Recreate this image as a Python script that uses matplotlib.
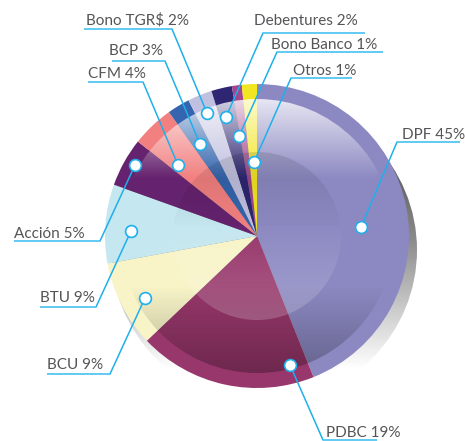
import matplotlib
matplotlib.use('Agg')
import matplotlib.pyplot as plt
from matplotlib.patches import Circle
import numpy as np

W, H = 465, 441

# clockwise from 12 o'clock
names = ['DPF', 'PDBC', 'BCU', 'BTU', 'Acción', 'CFM', 'BCP', 'Bono TGR$', 'Debentures', 'Bono Banco', 'Otros']
shares = [44.0, 19.0, 9.2, 8.4, 5.2, 4.5, 2.4, 2.6, 2.2, 1.05, 1.6]
labels = [45, 19, 9, 9, 5, 4, 3, 2, 2, 1, 1]
colors = ['#8C89C2', '#97376B', '#F8F4C8', '#C5E7EF', '#65226E', '#F28080',
          '#3465AE', '#C0C0E0', '#2E2672', '#A0478F', '#F2E622']

# layout in image pixels (y down)
cx, cy, rad = 257, 236, 152
dots = [(361, 227), (290, 365), (145, 298), (131, 231), (135, 165), (178, 165),
        (200, 144), (207, 113), (226, 117), (239, 136), (254, 162)]
elbows = [(397, 142), (323, 440), (110, 374), (96, 307), (100, 241), (143, 82),
          (165, 61), (172, 29), (263, 33), (277, 52), (291, 78)]
line_ends = [460, 377, 47, 40, 14, 88, 112, 84, 365, 383, 352]
text_x = [402, 326, 47, 40, 14, 88, 109, 86, 254, 271, 293]
baselines = [139, 437, 369, 302, 238, 78, 55, 24, 25, 49, 75]

CYAN = '#1FB0EC'
CYAN_LT = '#55C6F2'
TXT = '#555558'


def Y(py):
    return H - py


def gradient(ax, stops, clip, zorder):
    # vertical RGBA gradient, stops are (pixel y, rgb value, alpha)
    ys = np.arange(0, H)
    st = np.array(stops, dtype=float)
    img = np.zeros((H, 1, 4))
    for i in range(3):
        img[:, 0, i] = np.interp(ys, st[:, 0], st[:, 1])
    img[:, 0, 3] = np.interp(ys, st[:, 0], st[:, 2])
    im = ax.imshow(img, extent=(0, W, 0, H), origin='upper', aspect='auto',
                   zorder=zorder, interpolation='bilinear')
    clip.set_transform(ax.transData)
    im.set_clip_path(clip)


fig = plt.figure(figsize=(W / 100, H / 100), dpi=100)
ax = fig.add_axes([0, 0, 1, 1])
ax.set_xlim(0, W)
ax.set_ylim(0, H)

# shadow behind the pie, dropped down and to the right
gradient(ax, [(165, .36, 1), (240, .55, 1), (310, .8, 1), (368, 1, 1)],
         Circle((cx + 7, Y(cy + 14)), rad + 1), 1)

wedges, _ = ax.pie(shares, colors=colors, startangle=90, counterclock=False,
                   center=(cx, Y(cy)), radius=rad, frame=True,
                   wedgeprops=dict(linewidth=0, zorder=2))
ax.set_xlim(0, W)
ax.set_ylim(0, H)
ax.set_aspect('auto')
ax.axis('off')

# inner disc: light on top, darker towards the bottom
gradient(ax, [(98, 1, .8), (178, 1, 0), (179, 0, 0), (285, 0, 0), (374, 0, .28)],
         Circle((cx, Y(cy)), rad - 15), 3)
# centre disc
gradient(ax, [(152, 0, .12), (225, 0, .01), (226, 1, .01), (320, 1, .2)],
         Circle((cx, Y(cy)), 84), 4)

for i, name in enumerate(names):
    ex, ey = elbows[i]
    dx, dy = dots[i]
    ax.plot([ex, dx], [Y(ey), Y(dy)], color=CYAN, lw=1.1, zorder=5, solid_capstyle='round')
    ax.plot([line_ends[i], ex], [Y(ey), Y(ey)], color=CYAN_LT, lw=1.3, zorder=5,
            solid_capstyle='butt')
    ax.plot([dx], [Y(dy)], 'o', ms=8.5, mfc='white', mec=CYAN, mew=1.2, zorder=6)
    ax.text(text_x[i], Y(baselines[i]), f'{name} {labels[i]}%', fontsize=11, color=TXT,
            family='Lato', ha='left', va='baseline', zorder=7)

fig.savefig('out.png', dpi=100)
